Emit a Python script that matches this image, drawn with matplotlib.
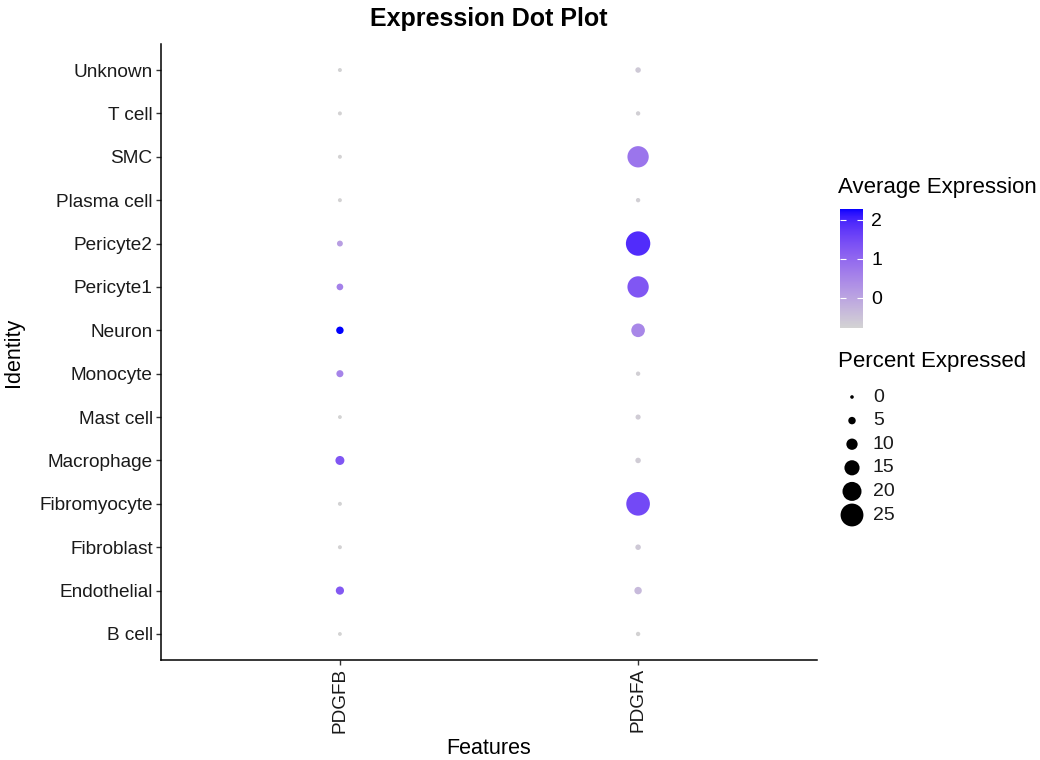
import numpy as np
import matplotlib
matplotlib.use("Agg")
import matplotlib.pyplot as plt
from matplotlib.colors import ListedColormap, Normalize
from matplotlib.cm import ScalarMappable

plt.rcParams['font.family'] = ['Liberation Sans', 'DejaVu Sans']

# identities from bottom to top
identities = ['B cell', 'Endothelial', 'Fibroblast', 'Fibromyocyte', 'Macrophage',
              'Mast cell', 'Monocyte', 'Neuron', 'Pericyte1', 'Pericyte2',
              'Plasma cell', 'SMC', 'T cell', 'Unknown']
features = ['PDGFB', 'PDGFA']

pct_pdgfb = [0.3, 6, 0.5, 0.5, 7, 0.3, 4.5, 5, 4, 3, 0.5, 0.5, 0.5, 0.5]
avg_pdgfb = [-0.77, 1.25, -0.75, -0.74, 1.3, -0.77, 0.55, 2.28, 0.6, 0.1,
             -0.75, -0.75, -0.75, -0.74]
pct_pdgfa = [1, 5, 2.5, 26, 2.5, 2, 1, 13, 23, 27, 1, 23, 1, 2.5]
avg_pdgfa = [-0.75, -0.35, -0.6, 1.5, -0.65, -0.65, -0.7, 0.5, 1.3, 1.9,
             -0.7, 0.8, -0.7, -0.6]

size_breaks = [0, 5, 10, 15, 20, 25]
color_ticks = [0, 1, 2]
vmin, vmax = -0.77, 2.28


# lightgrey -> blue gradient interpolated in CIELAB like ggplot2
M = np.array([[0.4124, 0.3576, 0.1805], [0.2126, 0.7152, 0.0722], [0.0193, 0.1192, 0.9505]])
WHITE = np.array([0.95047, 1.0, 1.08883])


def srgb_to_lab(c):
    c = np.asarray(c, float) / 255
    lin = np.where(c <= 0.04045, c / 12.92, ((c + 0.055) / 1.055) ** 2.4)
    xyz = M @ lin / WHITE
    f = np.where(xyz > 0.008856, np.cbrt(xyz), 7.787 * xyz + 16 / 116)
    return np.array([116 * f[1] - 16, 500 * (f[0] - f[1]), 200 * (f[1] - f[2])])


def lab_to_srgb(lab):
    L, a, b = lab
    fy = (L + 16) / 116
    f = np.array([fy + a / 500, fy, fy - b / 200])
    xyz = np.where(f ** 3 > 0.008856, f ** 3, (f - 16 / 116) / 7.787) * WHITE
    lin = np.clip(np.linalg.inv(M) @ xyz, 0, 1)
    return np.where(lin <= 0.0031308, 12.92 * lin, 1.055 * lin ** (1 / 2.4) - 0.055).clip(0, 1)


lo, hi = srgb_to_lab([211, 211, 211]), srgb_to_lab([0, 0, 255])
cmap = ListedColormap([lab_to_srgb(lo + t * (hi - lo)) for t in np.linspace(0, 1, 256)])
norm = Normalize(vmin, vmax)


def dot_size(p):
    d = 3.6 + 0.77 * np.asarray(p, float)   # diameter in px
    return (d * 0.72) ** 2


fig = plt.figure(figsize=(10.4, 7.6), dpi=100)
ax = fig.add_axes([161 / 1040, 1 - 660 / 760, 656 / 1040, 616 / 760])

y = np.arange(len(identities))
for i, (pct, avg) in enumerate([(pct_pdgfb, avg_pdgfb), (pct_pdgfa, avg_pdgfa)]):
    ax.scatter(np.full(len(y), i), y, s=dot_size(pct), c=avg, cmap=cmap, norm=norm,
               linewidths=0, zorder=3)

ax.set_xlim(-0.6, 1.6)
ax.set_ylim(-0.6, len(identities) - 0.4)
ax.set_xticks([0, 1])
ax.set_xticklabels(features, rotation=90, fontsize=13.7)
ax.set_yticks(y)
ax.set_yticklabels(identities, fontsize=13.7)
for s in ['top', 'right']:
    ax.spines[s].set_visible(False)
for s in ['left', 'bottom']:
    ax.spines[s].set_linewidth(1.1)
ax.tick_params(length=3.5, width=1, pad=2.5, color='#333333', labelcolor='#1a1a1a')
ax.set_xlabel('Features', fontsize=15.5, va='center')
ax.set_ylabel('Identity', fontsize=15.5, va='center')
ax.xaxis.set_label_coords(0.5, -88 / 616)
ax.yaxis.set_label_coords(-148 / 656, 0.5)
fig.text(489 / 1040, 1 - 19 / 760, 'Expression Dot Plot', fontsize=18, fontweight='bold',
         ha='center', va='center')

# colour bar
cax = fig.add_axes([840 / 1040, 1 - 328 / 760, 23 / 1040, 119 / 760])
cb = fig.colorbar(ScalarMappable(norm=norm, cmap=cmap), cax=cax, ticks=color_ticks)
cb.outline.set_visible(False)
cax.tick_params(axis='y', direction='in', color='white', length=4.5, width=0.8,
                left=True, right=True, labelsize=14, pad=6)
fig.text(838 / 1040, 1 - 188 / 760, 'Average Expression', fontsize=16, va='center')

# size legend
lax = fig.add_axes([0, 0, 1, 1])
lax.set_xlim(0, 1040)
lax.set_ylim(760, 0)
lax.axis('off')
fig.text(838 / 1040, 1 - 362 / 760, 'Percent Expressed', fontsize=16, va='center')
leg_y = 397 + 23.6 * np.arange(len(size_breaks))
lax.scatter(np.full(len(size_breaks), 852), leg_y, s=dot_size(size_breaks), color='black',
            linewidths=0)
for b, yy in zip(size_breaks, leg_y):
    lax.text(873, yy, str(b), fontsize=14, va='center', color='#1a1a1a')

fig.savefig('out.png', dpi=100)
